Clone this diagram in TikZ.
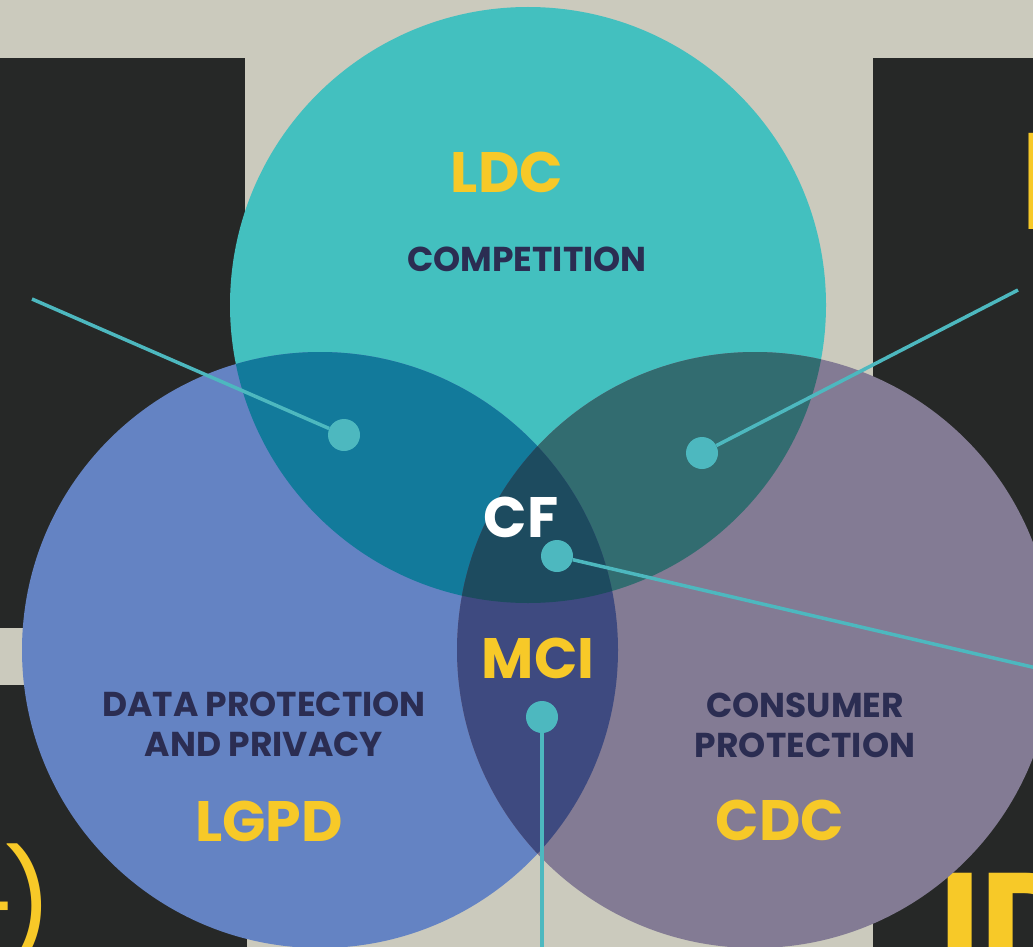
\documentclass[tikz,border=0pt]{standalone}
\usepackage{fontspec}
\setmainfont{Poppins}
\definecolor{bgbeige}{HTML}{CBCABD}
\definecolor{panel}{HTML}{262827}
\definecolor{ldcteal}{HTML}{43C0BF}
\definecolor{lgpdblue}{HTML}{6483C3}
\definecolor{cdcgray}{HTML}{837B94}
\definecolor{ldclgpd}{HTML}{127A9B}
\definecolor{ldccdc}{HTML}{326C70}
\definecolor{lgpdcdc}{HTML}{3E4A80}
\definecolor{allthree}{HTML}{1D4B5F}
\definecolor{linkteal}{HTML}{4DB8BF}
\definecolor{labelyellow}{HTML}{F7C928}
\definecolor{labelnavy}{HTML}{2B2D52}

\begin{document}
\begin{tikzpicture}[x=1pt, y=-1pt,
  dot/.style={circle, fill=linkteal, inner sep=0pt, minimum size=32pt},
  link/.style={draw=linkteal, line width=3.5pt},
  acronym/.style={font=\bfseries\fontsize{57}{57}\selectfont, text=labelyellow, inner sep=0pt},
  area/.style={font=\bfseries\fontsize{34.5}{40}\selectfont, text=labelnavy, align=center, inner sep=0pt},
  fragment/.style={text=labelyellow, inner sep=0pt, anchor=base west}]

%\draw[help lines] (0,0) grid[step=100pt] (1033,947);
\clip (0,0) rectangle (1033,947);
\fill[bgbeige] (0,0) rectangle (1033,947);
\fill[panel] (0,58) rectangle (245,628);
\fill[panel] (0,685) rectangle (247,947);
\fill[panel] (873,58) rectangle (1033,947);

% cut-off yellow letters of the panels
\node[fragment, font=\bfseries\fontsize{137}{137}\selectfont] (fragtop) at (1020,229) {D};
\node[fragment, font=\bfseries\fontsize{140}{140}\selectfont] (fragbottom) at (939,971) {ID};
\node[fragment, font=\fontsize{110}{110}\selectfont, anchor=base east] (fragleft) at (54,946) {+\kern-14pt)};

\coordinate (cLDC) at (528,305);
\coordinate (cLGPD) at (320,650);
\coordinate (cCDC) at (755,650);

\fill[ldcteal] (cLDC) circle[radius=298pt];
\fill[lgpdblue] (cLGPD) circle[radius=298pt];
\fill[cdcgray] (cCDC) circle[radius=298pt];
\begin{scope}
  \clip (cLDC) circle[radius=298pt];
  \fill[ldclgpd] (cLGPD) circle[radius=298pt];
  \fill[ldccdc] (cCDC) circle[radius=298pt];
\end{scope}
\begin{scope}
  \clip (cLGPD) circle[radius=298pt];
  \fill[lgpdcdc] (cCDC) circle[radius=298pt];
  \clip (cCDC) circle[radius=298pt];
  \fill[allthree] (cLDC) circle[radius=298pt];
\end{scope}

\node[acronym] (ldc) at (507,172) {LDC};
\node[area] (competition) at (527,259) {COMPETITION};
\node[area] (dataprot) at (264,724) {DATA PROTECTION\\AND PRIVACY};
\node[acronym] (lgpd) at (269,821) {LGPD};
\node[area] (consprot) at (805,725) {CONSUMER\\PROTECTION};
\node[acronym] (cdc) at (780,820) {CDC};
\node[acronym, text=white] (cf) at (521,517) {CF};
\node[acronym] (mci) at (538,658) {MCI};

\coordinate (endTL) at (32,299);
\coordinate (endTR) at (1018,290);
\coordinate (endCF) at (1045,670);
\coordinate (endMCI) at (542,960);
\node[dot] (dotTL) at (344,435) {};
\node[dot] (dotTR) at (702,453) {};
\node[dot] (dotCF) at (557,556) {};
\node[dot] (dotMCI) at (542,717) {};
\draw[link] (dotTL) -- (endTL);
\draw[link] (dotTR) -- (endTR);
\draw[link] (dotCF) -- (endCF);
\draw[link] (dotMCI) -- (endMCI);
\end{tikzpicture}
\end{document}
